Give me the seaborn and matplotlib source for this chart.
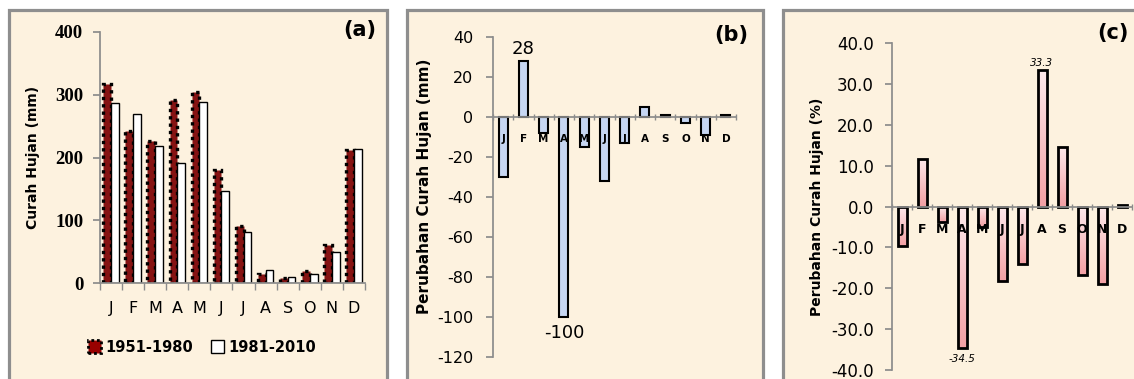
import numpy as np
import pandas as pd
import matplotlib
matplotlib.use("Agg")
import matplotlib.pyplot as plt
import seaborn as sns
from matplotlib.patches import Rectangle
from matplotlib.colors import LinearSegmentedColormap

# DATA
month_keys = ["Jan", "Feb", "Mar", "Apr", "May", "Jun", "Jul", "Aug", "Sep", "Oct", "Nov", "Dec"]
month_labels = ["J", "F", "M", "A", "M", "J", "J", "A", "S", "O", "N", "D"]
periods = ["1951-1980", "1981-2010"]

rain_1951_1980 = [317, 242, 226, 291, 304, 180, 91, 15, 8, 19, 60, 212]
rain_1981_2010 = [287, 270, 218, 191, 288, 146, 81, 21, 10, 15, 49, 213]
change_mm = [-30, 28, -8, -100, -15, -32, -13, 5, 1, -3, -9, 1]
change_pct = [-9.6, 11.7, -3.7, -34.5, -4.9, -18.2, -14.1, 33.3, 14.6, -16.8, -18.9, 0.3]

# SETTINGS
W, H = 1134, 379
PANEL_BG = "#fdf2df"
PANEL_EDGE = "#8e8e8e"
AXIS_GREY = "#8c8c8c"

sns.set_theme(style="white")
plt.rcParams["font.family"] = ["DejaVu Sans"]
plt.rcParams["text.color"] = "black"
plt.rcParams["axes.labelcolor"] = "black"
plt.rcParams["xtick.color"] = "black"
plt.rcParams["ytick.color"] = "black"


def box(left, top, right, bottom):
    # pixel box -> figure fraction [l, b, w, h]
    return [left / W, 1 - bottom / H, (right - left) / W, (bottom - top) / H]


fig = plt.figure(figsize=(W / 100, H / 100), dpi=100)

# beige panels behind each chart
for left, right in [(9, 387), (407, 763), (783, 1150)]:
    fig.add_artist(Rectangle((left / W, -0.2), (right - left) / W, 1.2 - 10 / H,
                             transform=fig.transFigure, facecolor=PANEL_BG,
                             edgecolor=PANEL_EDGE, linewidth=2.3, zorder=0))

ax_a = fig.add_axes(box(100, 32, 365, 283))
ax_b = fig.add_axes(box(493, 37, 736, 357))
ax_c = fig.add_axes(box(892, 43, 1132, 370))

# PANEL (a)
df_a = pd.DataFrame({
    "month": month_keys * 2,
    "period": [periods[0]] * 12 + [periods[1]] * 12,
    "rain": rain_1951_1980 + rain_1981_2010,
})
sns.barplot(data=df_a, x="month", y="rain", hue="period", order=month_keys,
            palette=["#990000", "white"], width=0.7, edgecolor="black",
            linewidth=1, legend=False, ax=ax_a)
for bar in ax_a.containers[0]:
    bar.set_linestyle((0, (1, 1.2)))
    bar.set_linewidth(2.4)

ax_a.set_ylim(0, 400)
ax_a.set_xlim(-0.5, 11.5)
ax_a.set_yticks([0, 100, 200, 300, 400])
ax_a.set_yticklabels(["0", "100", "200", "300", "400"],
                     family="Liberation Serif", fontweight="bold", fontsize=13.5)
ax_a.set_xticks(range(12))
ax_a.set_xticklabels(month_labels, fontsize=11.5)
ax_a.set_xticks(np.arange(-0.5, 12, 1), minor=True)
ax_a.tick_params(axis="x", which="major", length=0, pad=13)
ax_a.tick_params(axis="x", which="minor", length=5, color=AXIS_GREY, direction="out", bottom=True)
ax_a.tick_params(axis="y", length=5, color=AXIS_GREY, direction="out", left=True, pad=7)
ax_a.set_ylabel("Curah Hujan (mm)", fontsize=10, fontweight="bold")
ax_a.yaxis.set_label_coords(-0.227, 0.5)

legend_handles = [
    Rectangle((0, 0), 1, 1, facecolor="#990000", edgecolor="black",
              linestyle=(0, (1, 1)), linewidth=2),
    Rectangle((0, 0), 1, 1, facecolor="white", edgecolor="black", linewidth=1),
]
fig.legend(legend_handles, periods, loc="center", bbox_to_anchor=(202 / W, 1 - 347 / H),
           ncol=2, frameon=False, handlelength=0.9, handleheight=0.9,
           handletextpad=0.3, columnspacing=1.2,
           prop={"weight": "bold", "size": 10.5})

# PANEL (b)
df_b = pd.DataFrame({"month": month_keys, "change": change_mm})
sns.barplot(data=df_b, x="month", y="change", order=month_keys, color="#c6d6f2",
            saturation=1, width=0.45, edgecolor="black", linewidth=1.5, ax=ax_b)
ax_b.set_ylim(-120, 40)
ax_b.set_xlim(-0.5, 11.5)
ax_b.spines["bottom"].set_position(("data", 0))
ax_b.set_yticks(range(-120, 41, 20))
ax_b.set_yticklabels([str(v) for v in range(-120, 41, 20)], fontsize=11.5)
ax_b.set_xticks(range(12))
ax_b.set_xticklabels(month_labels, fontsize=7.5, fontweight="bold")
ax_b.set_xticks(np.arange(-0.5, 12, 1), minor=True)
ax_b.tick_params(axis="x", which="major", length=0, pad=12)
ax_b.tick_params(axis="x", which="minor", length=5, color=AXIS_GREY, direction="inout", bottom=True)
ax_b.tick_params(axis="y", length=5, color=AXIS_GREY, direction="out", left=True, pad=9)
ax_b.set_ylabel("Perubahan Curah Hujan (mm)", fontsize=11, fontweight="bold")
ax_b.yaxis.set_label_coords(-0.251, 0.534)

i_max = int(np.argmax(change_mm))
i_min = int(np.argmin(change_mm))
ax_b.annotate(f"{change_mm[i_max]}", (i_max, change_mm[i_max]), xytext=(0, 2),
              textcoords="offset points", ha="center", va="bottom", fontsize=13)
ax_b.annotate(f"{change_mm[i_min]}", (i_min, change_mm[i_min]), xytext=(0, -5),
              textcoords="offset points", ha="center", va="top", fontsize=13)

# PANEL (c)
df_c = pd.DataFrame({"month": month_keys, "pct": change_pct})
sns.barplot(data=df_c, x="month", y="pct", order=month_keys, color="#f4a7aa",
            saturation=1, width=0.45, edgecolor="black", linewidth=2, ax=ax_c)
pink = LinearSegmentedColormap.from_list("pink_grad", ["#fdeaec", "#f3a0a4"])
grad = np.linspace(0, 1, 128).reshape(-1, 1)
for bar in list(ax_c.patches):
    x0, y0 = bar.get_x(), bar.get_y()
    y1 = y0 + bar.get_height()
    im = ax_c.imshow(grad, extent=[x0, x0 + bar.get_width(), min(y0, y1), max(y0, y1)],
                     aspect="auto", cmap=pink, origin="upper", zorder=0.9)
    im.set_clip_path(bar)
    bar.set_facecolor("none")

ax_c.set_ylim(-40, 40)
ax_c.set_xlim(-0.5, 11.5)
ax_c.spines["bottom"].set_position(("data", 0))
ax_c.set_yticks(range(-40, 41, 10))
ax_c.set_yticklabels([f"{v:.1f}" for v in range(-40, 41, 10)], fontsize=12)
ax_c.set_xticks(range(12))
ax_c.set_xticklabels(month_labels, fontsize=9, fontweight="bold")
ax_c.set_xticks(np.arange(-0.5, 12, 1), minor=True)
ax_c.tick_params(axis="x", which="major", length=0, pad=12)
ax_c.tick_params(axis="x", which="minor", length=5, color=AXIS_GREY, direction="inout", bottom=True)
ax_c.tick_params(axis="y", length=5, color=AXIS_GREY, direction="out", left=True, pad=8)
ax_c.set_ylabel("Perubahan Curah Hujan (%)", fontsize=10, fontweight="bold")
ax_c.yaxis.set_label_coords(-0.283, 0.5)

j_max = int(np.argmax(change_pct))
j_min = int(np.argmin(change_pct))
ax_c.annotate(f"{change_pct[j_max]:.1f}", (j_max, change_pct[j_max]), xytext=(0, 2),
              textcoords="offset points", ha="center", va="bottom", fontsize=7.5, style="italic")
ax_c.annotate(f"{change_pct[j_min]:.1f}", (j_min, change_pct[j_min]), xytext=(0, -5),
              textcoords="offset points", ha="center", va="top", fontsize=7.5, style="italic")

for ax in (ax_a, ax_b, ax_c):
    ax.patch.set_alpha(0)
    ax.set_axisbelow(False)
    ax.spines["top"].set_visible(False)
    ax.spines["right"].set_visible(False)
    ax.spines["left"].set_color(AXIS_GREY)
    ax.spines["bottom"].set_color(AXIS_GREY)
    ax.set_xlabel("")

# panel letters
for label, x, y in [("(a)", 360, 30), ("(b)", 731, 35), ("(c)", 1113, 33)]:
    fig.text(x / W, 1 - y / H, label, ha="center", va="center",
             fontsize=15, fontweight="bold")

fig.savefig("out.png", dpi=100)
